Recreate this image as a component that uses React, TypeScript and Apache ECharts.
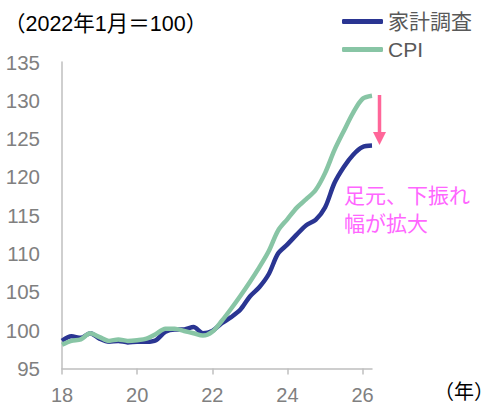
import React, { useEffect, useRef } from "react";
import * as echarts from "echarts";

const years = [
  18.0, 18.25, 18.5, 18.75, 19.0, 19.25, 19.5, 19.75, 20.0, 20.25, 20.5, 20.75,
  21.0, 21.25, 21.5, 21.75, 22.0, 22.25, 22.5, 22.75, 23.0, 23.25, 23.5, 23.75,
  24.0, 24.25, 24.5, 24.75, 25.0, 25.25, 25.5, 25.75, 26.0, 26.25,
];
const kakei = [
  98.6, 99.2, 99.0, 99.6, 98.9, 98.5, 98.6, 98.4, 98.5, 98.5, 98.7, 99.8,
  100.1, 100.1, 100.4, 99.6, 99.9, 100.9, 101.7, 102.7, 104.4, 105.6, 107.3, 110.0,
  111.2, 112.5, 113.7, 114.4, 116.0, 119.2, 121.3, 122.9, 123.9, 124.1,
];
const cpi = [
  98.1, 98.6, 98.8, 99.6, 99.1, 98.6, 98.8, 98.6, 98.7, 98.9, 99.5, 100.2,
  100.2, 99.9, 99.6, 99.3, 99.8, 101.2, 102.8, 104.5, 106.3, 108.2, 110.3, 113.0,
  114.5, 116.0, 117.1, 118.3, 120.5, 123.5, 126.0, 128.4, 130.2, 130.6,
];
const seriesNames = ["家計調査", "CPI"];
const yTicks = { min: 95, max: 135, interval: 5 };
const xTicks = { min: 18, max: 26.25, interval: 2 };

const FONT = "'Liberation Sans', Arial, 'Noto Sans CJK JP', sans-serif";
const NAVY = "#2a3592";
const GREEN = "#88c5a5";

export default function App() {
  const ref = useRef<HTMLDivElement>(null);
  useEffect(() => {
    if (!ref.current) return;
    const chart = echarts.init(ref.current, null, { renderer: "svg" });
    chart.setOption({
      animation: false,
      textStyle: { fontFamily: FONT },
      grid: { left: 62, right: 130, top: 62, bottom: 44.5 },
      legend: {
        orient: "vertical",
        left: 337,
        top: 6,
        itemWidth: 41,
        itemHeight: 5,
        itemGap: 7,
        icon: "roundRect",
        textStyle: { color: "#595959", fontSize: 21, fontFamily: FONT },
        data: seriesNames,
      },
      xAxis: {
        type: "value",
        min: xTicks.min,
        max: xTicks.max,
        interval: xTicks.interval,
        axisLine: { lineStyle: { color: "#bfbfbf", width: 1.5 } },
        axisTick: { show: true, length: 6, lineStyle: { color: "#bfbfbf", width: 1.5 } },
        axisLabel: { color: "#808080", fontSize: 20, margin: 16, showMaxLabel: false, fontFamily: FONT },
        splitLine: { show: false },
      },
      yAxis: {
        type: "value",
        min: yTicks.min,
        max: yTicks.max,
        interval: yTicks.interval,
        axisLine: { show: true, lineStyle: { color: "#bfbfbf", width: 1.5 } },
        axisTick: { show: false },
        axisLabel: { color: "#808080", fontSize: 20.5, margin: 22, fontFamily: FONT },
        splitLine: { show: false },
      },
      series: [
        {
          name: seriesNames[0],
          type: "line",
          data: years.map((x, i) => [x, kakei[i]]),
          showSymbol: false,
          symbol: "none",
          smooth: 0.3,
          lineStyle: { color: NAVY, width: 4.5 },
          itemStyle: { color: NAVY },
        },
        {
          name: seriesNames[1],
          type: "line",
          data: years.map((x, i) => [x, cpi[i]]),
          showSymbol: false,
          symbol: "none",
          smooth: 0.3,
          lineStyle: { color: GREEN, width: 4.5 },
          itemStyle: { color: GREEN },
        },
      ],
      graphic: [
        {
          type: "text",
          left: 4,
          top: 13,
          style: { text: "（2022年1月＝100）", fill: "#000", fontSize: 21.5, fontFamily: FONT },
        },
        {
          type: "text",
          left: 434,
          top: 382,
          style: { text: "（年）", fill: "#000", fontSize: 20, fontFamily: FONT },
        },
        {
          type: "line",
          shape: { x1: 379.5, y1: 95, x2: 379.5, y2: 133 },
          style: { stroke: "#ff6699", lineWidth: 3.5 },
        },
        {
          type: "polygon",
          shape: { points: [[373, 132], [386, 132], [379.5, 145]] },
          style: { fill: "#ff6699" },
        },
        {
          type: "text",
          left: 344,
          top: 181,
          style: {
            text: "足元、下振れ\n幅が拡大",
            fill: "#ff66ff",
            fontSize: 21,
            lineHeight: 28,
            fontFamily: FONT,
          },
        },
      ],
    });
    return () => chart.dispose();
  }, []);
  return <div ref={ref} style={{ width: 502, height: 413, position: "absolute", left: 0, top: 0 }} />;
}
